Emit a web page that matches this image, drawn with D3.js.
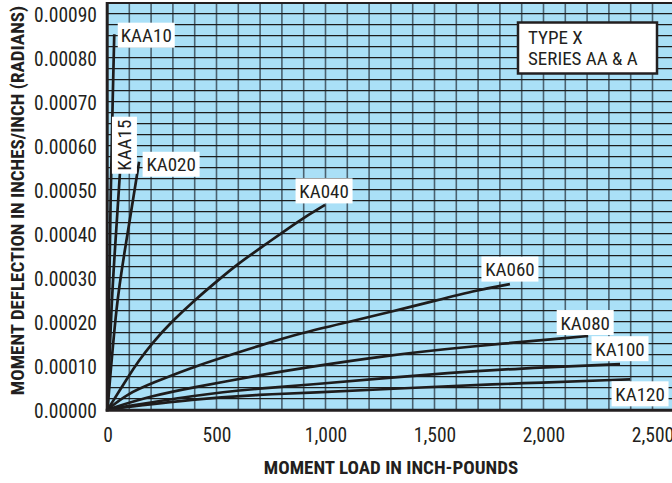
<!DOCTYPE html>
<html>
<head>
<meta charset="utf-8">
<script src="https://cdn.jsdelivr.net/npm/d3@7"></script>
<style>
  html, body { margin: 0; padding: 0; background: #fff; }
  svg { display: block; }
  text { font-family: "Liberation Sans Narrow", "Roboto Condensed", "DejaVu Sans Condensed", "Liberation Sans", Arial, sans-serif; fill: #231f20; }
</style>
</head>
<body>
<svg id="chart" width="672" height="483"></svg>
<script>
// Moment deflection (radians) vs moment load (inch-pounds), Type X, Series AA & A
const seriesNames = ["KAA10", "KAA15", "KA020", "KA040", "KA060", "KA080", "KA100", "KA120"];

// [load in inch-pounds, deflection in radians]
const kaa10 = [[0, 0], [16, 0.000551], [24, 0.000703], [31, 0.000853]];
const kaa15 = [[0, 0], [19, 0.000249], [34, 0.000362], [57, 0.000537]];
const ka020 = [[0, 0], [42, 0.000249], [80, 0.000362], [145, 0.000563]];
const ka040 = [[0, 0], [19, 0.0000141], [57, 0.0000443], [95, 0.0000745], [141, 0.000109],
               [203, 0.000150], [295, 0.000200], [401, 0.000249], [508, 0.000294], [600, 0.000332],
               [722, 0.000374], [883, 0.000431], [998, 0.000465]];
const ka060 = [[0, 0], [95, 0.0000368], [203, 0.0000595], [401, 0.000099], [722, 0.000149],
               [883, 0.000173], [1097, 0.000198], [1299, 0.000222], [1499, 0.000247],
               [1701, 0.000272], [1846, 0.000285]];
const ka080 = [[0, 0], [203, 0.0000314], [401, 0.0000512], [722, 0.0000800], [883, 0.0000936],
               [1299, 0.000124], [1636, 0.000142], [2205, 0.000167]];
const ka100 = [[0, 0], [401, 0.0000330], [722, 0.0000490], [883, 0.0000545], [1499, 0.0000810],
               [1892, 0.0000936], [2351, 0.000103]];
const ka120 = [[0, 0], [401, 0.0000240], [722, 0.0000345], [883, 0.0000370], [1499, 0.0000518],
               [1892, 0.0000595], [2397, 0.0000686]];
const seriesValues = [kaa10, kaa15, ka020, ka040, ka060, ka080, ka100, ka120];

const xTicks = [0, 500, 1000, 1500, 2000, 2500];
const yTicks = [0, 0.0001, 0.0002, 0.0003, 0.0004, 0.0005, 0.0006, 0.0007, 0.0008, 0.0009];
const xTitle = "MOMENT LOAD IN INCH-POUNDS";
const yTitle = "MOMENT DEFLECTION IN INCHES/INCH (RADIANS)";
const noteLines = ["TYPE X", "SERIES AA & A"];

// label placement relative to each curve's last point (px), and rotation
const labelLayout = [
  { dx: 32, dy: 1, rot: 0 },
  { dx: 4.5, dy: -28, rot: -90 },
  { dx: 32, dy: 2.5, rot: 0 },
  { dx: -1, dy: -14, rot: 0 },
  { dx: 0, dy: -15, rot: 0 },
  { dx: -3, dy: -13.5, rot: 0 },
  { dx: 0, dy: -15.5, rot: 0 },
  { dx: 10, dy: 14.5, rot: 0 }
];

const svg = d3.select("#chart");

const x = d3.scaleLinear().domain([0, 2500]).range([107.5, 652.5]);
const y = d3.scaleLinear().domain([0, 0.0009]).range([409.5, 13.5]);
const xMax = 2600, yMax = 0.000925;

// plot background
svg.append("rect")
  .attr("x", x(0)).attr("y", y(yMax))
  .attr("width", x(xMax) - x(0)).attr("height", y(0) - y(yMax))
  .attr("fill", "#aae0f7");

// grid: every 100 in-lb and every 0.000025 rad
const grid = svg.append("g");
grid.selectAll("line.v")
  .data(d3.range(100, xMax + 1, 100))
  .join("line")
  .attr("x1", d => x(d)).attr("x2", d => x(d))
  .attr("y1", y(yMax)).attr("y2", y(0))
  .attr("stroke", "#4a6270").attr("stroke-width", 1.6);
grid.selectAll("line.h")
  .data(d3.range(1, 37).map(i => i * 0.000025))
  .join("line")
  .attr("x1", x(0)).attr("x2", x(xMax))
  .attr("y1", d => y(d)).attr("y2", d => y(d))
  .attr("stroke", "#1c1c1c").attr("stroke-width", 1.25);

// curves
const line = d3.line()
  .x(d => x(d[0])).y(d => y(d[1]))
  .curve(d3.curveBasis);
svg.append("g").selectAll("path")
  .data(seriesValues)
  .join("path")
  .attr("d", line)
  .attr("fill", "none")
  .attr("stroke", "#1e1c1c")
  .attr("stroke-width", 2.7)
  .attr("stroke-linecap", "butt");

// frame
svg.append("line").attr("x1", x(0) - 1.5).attr("x2", 672).attr("y1", 3).attr("y2", 3)
  .attr("stroke", "#231f20").attr("stroke-width", 2.2);
svg.append("line").attr("x1", x(0) - 0.3).attr("x2", x(0) - 0.3).attr("y1", 2).attr("y2", 411.5)
  .attr("stroke", "#231f20").attr("stroke-width", 3);
svg.append("line").attr("x1", x(0) - 1.8).attr("x2", 672).attr("y1", 410.3).attr("y2", 410.3)
  .attr("stroke", "#231f20").attr("stroke-width", 3);

// series labels
const labels = svg.append("g");
seriesValues.forEach((vals, i) => {
  const last = vals[vals.length - 1];
  const L = labelLayout[i];
  const cx = x(last[0]) + L.dx, cy = y(last[1]) + L.dy;
  const g = labels.append("g").attr("transform", `translate(${cx},${cy}) rotate(${L.rot})`);
  g.append("rect").attr("x", -28.5).attr("y", -12.5).attr("width", 57).attr("height", 25).attr("fill", "#fff");
  g.append("text").attr("text-anchor", "middle").attr("y", 7)
    .style("font-size", "19px").text(seriesNames[i]);
});

// note box
const note = svg.append("g");
note.append("rect").attr("x", 518).attr("y", 22.5).attr("width", 139).attr("height", 51)
  .attr("fill", "#fff").attr("stroke", "#231f20").attr("stroke-width", 2.5);
note.selectAll("text").data(noteLines).join("text")
  .attr("x", 528).attr("y", (d, i) => 44 + i * 20.5)
  .style("font-size", "19px").text(d => d);

// axes
const xAxis = svg.append("g").attr("transform", `translate(0,${y(0)})`)
  .call(d3.axisBottom(x).tickValues(xTicks).tickSize(0).tickPadding(0).tickFormat(d3.format(",")));
xAxis.select(".domain").remove();
xAxis.selectAll("text").attr("y", 32).attr("dy", 0).style("font-size", "19.5px").attr("fill", "#231f20");

const yAxis = svg.append("g").attr("transform", `translate(97,0)`)
  .call(d3.axisLeft(y).tickValues(yTicks).tickSize(0).tickPadding(0).tickFormat(d3.format(".5f")));
yAxis.select(".domain").remove();
yAxis.selectAll("text").attr("x", 0).attr("dy", "0.4em").style("font-size", "19.5px").attr("fill", "#231f20");

// axis titles
svg.append("text").attr("x", 391).attr("y", 474).attr("text-anchor", "middle")
  .style("font-size", "19px").style("font-weight", "bold").text(xTitle);
svg.append("text").attr("transform", "translate(24,200.5) rotate(-90)").attr("text-anchor", "middle")
  .style("font-size", "19px").style("font-weight", "bold").text(yTitle);
</script>
</body>
</html>
